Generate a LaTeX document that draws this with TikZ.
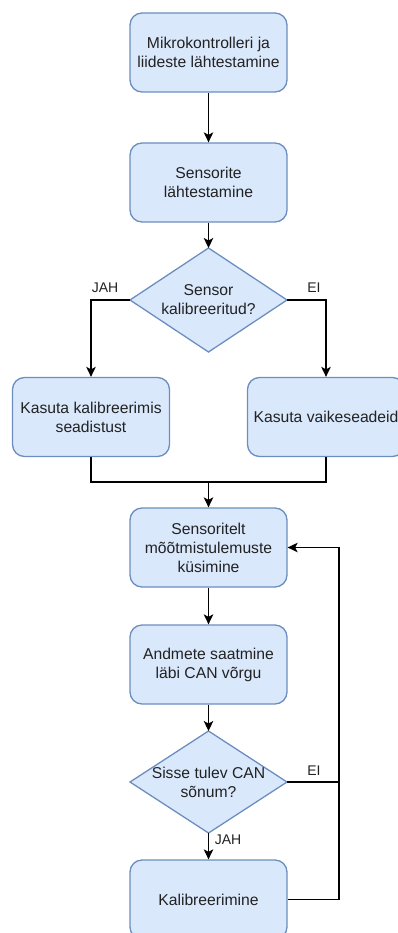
\documentclass[tikz,border=0pt]{standalone}
\usepackage{fontspec}
\setmainfont{Liberation Sans}
\usetikzlibrary{shapes.geometric,arrows.meta,positioning}
\definecolor{boxfill}{HTML}{DAE8FC}
\definecolor{boxline}{HTML}{6C8EBF}
\definecolor{txt}{HTML}{222222}
\tikzset{
  procbox/.style={draw=boxline,fill=boxfill,rounded corners=12pt,line width=1.3pt,
    minimum width=157pt,minimum height=79pt,inner sep=2pt,align=center,text=txt,
    font=\fontsize{15.7}{18.9}\selectfont},
  decbox/.style={draw=boxline,fill=boxfill,diamond,line width=1.3pt,
    minimum width=157pt,minimum height=104pt,inner sep=0pt,outer sep=0pt},
  dectext/.style={align=center,text=txt,inner sep=0pt,
    font=\fontsize{15.7}{18.9}\selectfont},
  conn/.style={line width=1.3pt,draw=black},
  arr/.style={conn,-{Stealth[length=10pt,width=9.5pt,inset=2.5pt]}},
  lbl/.style={text=txt,font=\fontsize{14}{16}\selectfont,inner sep=0pt}
}
\begin{document}
\begin{tikzpicture}[x=1pt,y=-1pt]
\useasboundingbox (0,0) rectangle (397,933);
\node[procbox] (b1) at (208.5,52.5) {Mikrokontrolleri ja\\liideste lähtestamine};
\node[procbox] (b2) at (208.5,182.5) {Sensorite\\lähtestamine};
\node[decbox] (d1) at (208.5,300) {};
\node[dectext] (t1) at (d1.center) {Sensor\\kalibreeritud?};
\node[procbox] (bl) at (91,417) {Kasuta kalibreerimis\\seadistust};
\node[procbox] (br) at (326,417) {Kasuta vaikeseadeid};
\coordinate (m) at (208.5,482);
\node[procbox] (b3) at (208.5,547.5) {Sensoritelt\\mõõtmistulemuste\\küsimine};
\node[procbox] (b4) at (208.5,664.5) {Andmete saatmine\\läbi CAN võrgu};
\node[decbox,minimum height=102pt] (d2) at (208.5,782) {};
\node[dectext] (t2) at (d2.center) {Sisse tulev CAN\\sõnum?};
\node[procbox] (b5) at (208.5,899.5) {Kalibreerimine};
\coordinate (lp) at (339,547.5);

\node[lbl] (l1) at (105,288) {JAH};
\node[lbl] (l2) at (314,288) {EI};
\node[lbl] (l3) at (314,771) {EI};
\node[lbl] (l4) at (228,840) {JAH};

\draw[arr] (b1.south) -- (b2.north);
\draw[arr] (b2.south) -- (d1.north);
\draw[arr] (d1.west) -| (bl.north);
\draw[arr] (d1.east) -| (br.north);
\draw[conn] (bl.south) |- (m) -| (br.south);
\draw[arr] (m) -- (b3.north);
\draw[arr] (b3.south) -- (b4.north);
\draw[arr] (b4.south) -- (d2.north);
\draw[arr] (d2.south) -- (b5.north);
\draw[arr] (b5.east) -| (lp) -- (b3.east);
\draw[conn] (d2.east) -- (d2.east -| lp);
\end{tikzpicture}
\end{document}
